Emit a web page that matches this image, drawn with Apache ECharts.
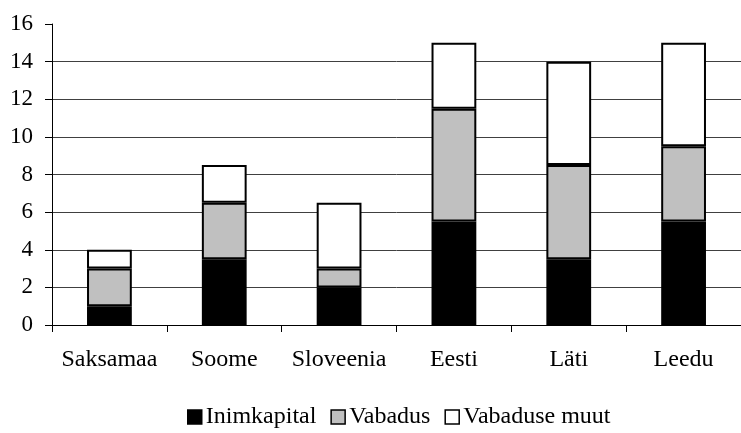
<!DOCTYPE html>
<html>
<head>
<meta charset="utf-8">
<script src="https://cdn.jsdelivr.net/npm/echarts@6/dist/echarts.min.js"></script>
<style>
  html, body { margin: 0; padding: 0; background: #fff; }
  #chartmain { width: 741px; height: 433px; }
</style>
</head>
<body>
<div id="chartmain"></div>
<script>
var categories = ['Saksamaa', 'Soome', 'Sloveenia', 'Eesti', 'Läti', 'Leedu'];
var seriesNames = ['Inimkapital', 'Vabadus', 'Vabaduse muut'];
var inimkapital = [1, 3.5, 2, 5.5, 3.5, 5.5];
var vabadus = [2, 3, 1, 6, 5, 4];
var vabaduseMuut = [1, 2, 3.5, 3.5, 5.5, 5.5];
var colors = ['#000000', '#c0c0c0', '#ffffff'];

var font = 'Liberation Serif';

// üks virn-tulp seeria
function makeSeries(name, data, color) {
    return {
        name: name,
        type: 'bar',
        stack: 'total',
        barWidth: '39%',
        itemStyle: { color: color, borderColor: '#000', borderWidth: 2 },
        data: data
    };
}

var myChart = echarts.init(document.getElementById('chartmain'));
var option = {
    animation: false,
    backgroundColor: '#fff',
    grid: { left: 52, right: -7, top: 24, bottom: 108 },
    legend: {
        bottom: -1,
        left: 182,
        icon: 'rect',
        itemWidth: 14,
        itemHeight: 14,
        itemGap: 14,
        textStyle: { fontFamily: font, fontSize: 24, color: '#000', padding: [0, 0, 0, -1] },
        itemStyle: { borderColor: '#000', borderWidth: 1.5 },
        data: seriesNames
    },
    xAxis: {
        type: 'category',
        data: categories,
        axisLine: { lineStyle: { color: '#000', width: 1 } },
        axisTick: { show: true, interval: 0, length: 7, lineStyle: { color: '#000' } },
        axisLabel: { interval: 0, hideOverlap: false, fontFamily: font, fontSize: 24, color: '#000', margin: 23 }
    },
    yAxis: {
        type: 'value',
        min: 0,
        max: 16,
        interval: 2,
        axisLine: { show: true, lineStyle: { color: '#000', width: 1 } },
        axisTick: { show: true, length: 7, lineStyle: { color: '#000' } },
        axisLabel: { fontFamily: font, fontSize: 23, color: '#000', margin: 19 },
        splitLine: { show: true, showMaxLine: false, lineStyle: { color: '#404040', width: 1 } }
    },
    series: [
        makeSeries(seriesNames[0], inimkapital, colors[0]),
        makeSeries(seriesNames[1], vabadus, colors[1]),
        makeSeries(seriesNames[2], vabaduseMuut, colors[2])
    ]
};
myChart.setOption(option);
</script>
</body>
</html>
